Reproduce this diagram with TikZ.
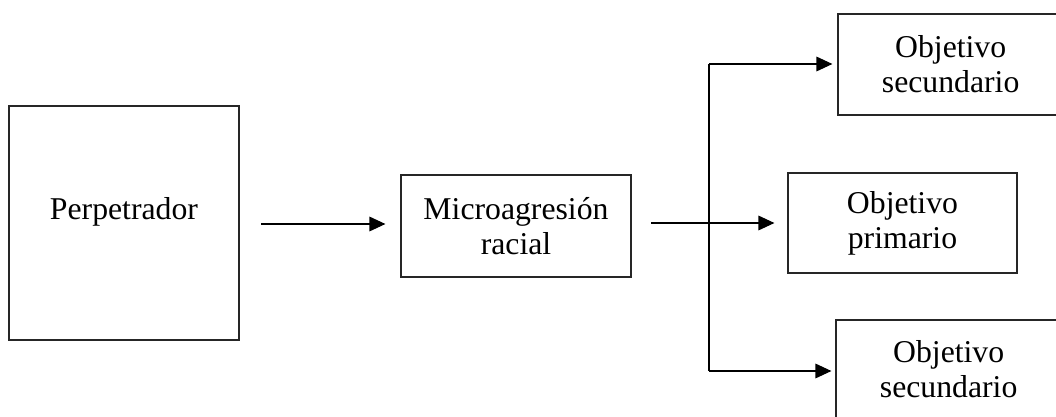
\documentclass[tikz,border=0pt]{standalone}
\usepackage{fontspec}
\setmainfont{Liberation Serif}
\usetikzlibrary{arrows.meta}
\begin{document}
\begin{tikzpicture}[x=0.75pt,y=-0.75pt,
  box/.style={draw=black!85, line width=0.9pt, rectangle, inner sep=0pt, align=center,
    font=\fontsize{23.8}{26.3}\selectfont},
  arr/.style={line width=0.9pt, -{Triangle[length=12pt,width=11pt]}},
  conn/.style={line width=0.9pt}]
\useasboundingbox (0,0) rectangle (1056,417);
\clip (0,0) rectangle (1056,417);
\fill[white] (0,0) rectangle (1056,417);
\node[box, minimum width=172.5pt, minimum height=175.5pt,
  label={[font=\fontsize{23.8}{26.3}\selectfont, yshift=8pt]center:Perpetrador}] (perp) at (124,223) {};
\node[box, minimum width=172.5pt, minimum height=76.5pt] (micro) at (516,226) {Microagresión\\racial};
\node[box, minimum width=171.75pt, minimum height=75pt] (prim) at (902.5,223) {Objetivo\\primario};
\node[box, minimum width=180pt, minimum height=75.75pt] (sec1) at (958,64.5) {\hspace*{-11pt}Objetivo\\\hspace*{-11pt}secundario};
\node[box, minimum width=180pt, minimum height=73.5pt] (sec2) at (956,369) {\hspace*{-11pt}Objetivo\\\hspace*{-11pt}secundario};
\coordinate (a1s) at (261,224);
\coordinate (a2s) at (651,223);
\coordinate (vt) at (709,64);
\coordinate (vb) at (709,371);
\draw[arr, shorten >=11.25pt] (a1s) -- (micro.west |- a1s);
\draw[arr, shorten >=9.75pt] (a2s) -- (prim.west |- a2s);
\draw[conn] (vt) -- (vb);
\draw[arr, shorten >=3.75pt] (vt) -- (sec1.west |- vt);
\draw[arr, shorten >=3pt] (vb) -- (sec2.west |- vb);
\end{tikzpicture}
\end{document}
